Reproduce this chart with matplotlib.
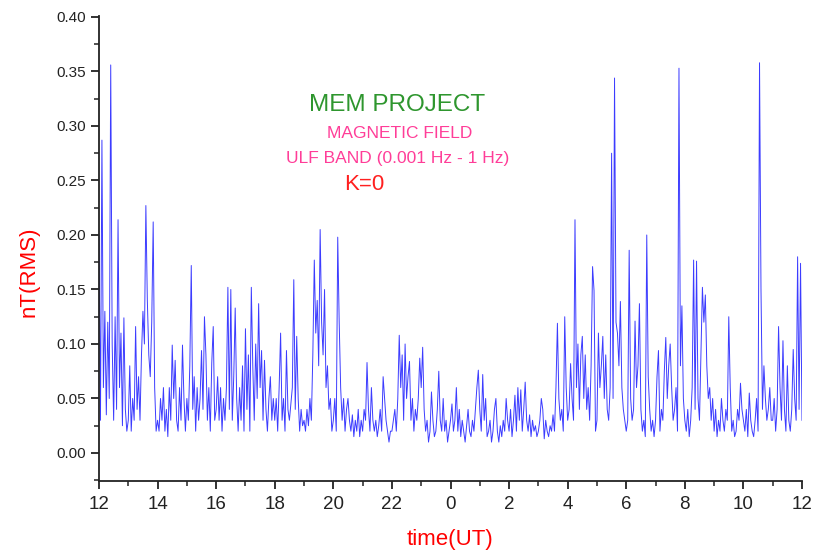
import numpy as np
import matplotlib.pyplot as plt
from matplotlib.ticker import MultipleLocator, FixedLocator

# RMS of magnetic field, ULF band, 20 samples per hour starting 12 UT
h00 = [0.20, 0.03, 0.287, 0.06, 0.13, 0.035, 0.12, 0.05, 0.356, 0.10, 0.03, 0.125, 0.04, 0.214, 0.06, 0.11, 0.025, 0.124, 0.04, 0.02]
h01 = [0.03, 0.08, 0.02, 0.05, 0.03, 0.116, 0.04, 0.07, 0.03, 0.09, 0.13, 0.10, 0.227, 0.14, 0.09, 0.07, 0.12, 0.212, 0.06, 0.02]
h02 = [0.03, 0.02, 0.05, 0.03, 0.06, 0.02, 0.04, 0.015, 0.06, 0.03, 0.099, 0.05, 0.085, 0.03, 0.02, 0.06, 0.03, 0.099, 0.05, 0.02]
h03 = [0.05, 0.03, 0.08, 0.172, 0.04, 0.07, 0.02, 0.06, 0.03, 0.05, 0.094, 0.04, 0.125, 0.09, 0.03, 0.06, 0.02, 0.083, 0.116, 0.03]
h04 = [0.04, 0.07, 0.03, 0.06, 0.02, 0.05, 0.03, 0.06, 0.152, 0.04, 0.15, 0.03, 0.07, 0.133, 0.05, 0.02, 0.06, 0.03, 0.08, 0.02]
h05 = [0.114, 0.04, 0.09, 0.02, 0.152, 0.08, 0.03, 0.10, 0.05, 0.137, 0.06, 0.094, 0.03, 0.085, 0.04, 0.02, 0.05, 0.07, 0.03, 0.05]
h06 = [0.03, 0.05, 0.02, 0.06, 0.11, 0.03, 0.05, 0.02, 0.094, 0.04, 0.03, 0.045, 0.06, 0.159, 0.04, 0.107, 0.05, 0.02, 0.04, 0.025]
h07 = [0.03, 0.02, 0.04, 0.025, 0.05, 0.03, 0.09, 0.177, 0.11, 0.14, 0.08, 0.205, 0.12, 0.09, 0.15, 0.06, 0.08, 0.04, 0.05, 0.02]
h08 = [0.03, 0.05, 0.02, 0.198, 0.12, 0.06, 0.03, 0.05, 0.02, 0.04, 0.05, 0.03, 0.02, 0.035, 0.015, 0.03, 0.02, 0.04, 0.015, 0.03]
h09 = [0.02, 0.04, 0.03, 0.083, 0.04, 0.02, 0.06, 0.03, 0.02, 0.03, 0.015, 0.025, 0.04, 0.02, 0.07, 0.05, 0.03, 0.02, 0.01, 0.02]
h10 = [0.02, 0.03, 0.04, 0.02, 0.05, 0.108, 0.06, 0.09, 0.03, 0.10, 0.05, 0.07, 0.084, 0.03, 0.05, 0.02, 0.04, 0.03, 0.05, 0.087]
h11 = [0.06, 0.097, 0.04, 0.02, 0.03, 0.01, 0.02, 0.056, 0.03, 0.015, 0.02, 0.04, 0.075, 0.03, 0.02, 0.05, 0.02, 0.03, 0.01, 0.02]
h12 = [0.03, 0.045, 0.02, 0.03, 0.06, 0.02, 0.04, 0.015, 0.03, 0.02, 0.01, 0.025, 0.04, 0.02, 0.015, 0.03, 0.02, 0.04, 0.06, 0.076]
h13 = [0.04, 0.02, 0.072, 0.03, 0.05, 0.015, 0.02, 0.03, 0.01, 0.02, 0.04, 0.05, 0.02, 0.01, 0.025, 0.015, 0.03, 0.02, 0.05, 0.03]
h14 = [0.02, 0.04, 0.015, 0.03, 0.053, 0.02, 0.06, 0.03, 0.058, 0.02, 0.04, 0.065, 0.03, 0.02, 0.035, 0.015, 0.03, 0.02, 0.025, 0.015]
h15 = [0.02, 0.03, 0.05, 0.04, 0.013, 0.03, 0.02, 0.015, 0.025, 0.02, 0.035, 0.02, 0.06, 0.119, 0.05, 0.03, 0.04, 0.02, 0.125, 0.06]
h16 = [0.03, 0.04, 0.082, 0.05, 0.03, 0.214, 0.06, 0.10, 0.04, 0.09, 0.107, 0.05, 0.09, 0.04, 0.06, 0.03, 0.08, 0.171, 0.149, 0.02]
h17 = [0.03, 0.11, 0.06, 0.08, 0.107, 0.05, 0.09, 0.04, 0.03, 0.06, 0.275, 0.05, 0.344, 0.12, 0.11, 0.08, 0.139, 0.06, 0.04, 0.03]
h18 = [0.02, 0.03, 0.186, 0.05, 0.03, 0.04, 0.121, 0.06, 0.08, 0.137, 0.04, 0.02, 0.03, 0.015, 0.20, 0.07, 0.04, 0.02, 0.03, 0.015]
h19 = [0.03, 0.07, 0.094, 0.02, 0.04, 0.03, 0.075, 0.106, 0.05, 0.08, 0.10, 0.06, 0.03, 0.04, 0.06, 0.02, 0.353, 0.08, 0.135, 0.05]
h20 = [0.03, 0.02, 0.04, 0.015, 0.03, 0.06, 0.177, 0.04, 0.176, 0.05, 0.03, 0.09, 0.152, 0.12, 0.145, 0.08, 0.05, 0.06, 0.03, 0.05]
h21 = [0.02, 0.04, 0.015, 0.03, 0.02, 0.05, 0.03, 0.02, 0.04, 0.03, 0.125, 0.06, 0.02, 0.03, 0.015, 0.02, 0.04, 0.03, 0.064, 0.04]
h22 = [0.03, 0.02, 0.04, 0.015, 0.055, 0.03, 0.02, 0.015, 0.03, 0.05, 0.02, 0.358, 0.15, 0.04, 0.08, 0.05, 0.03, 0.04, 0.06, 0.03]
h23 = [0.03, 0.05, 0.02, 0.04, 0.116, 0.06, 0.03, 0.103, 0.04, 0.02, 0.08, 0.03, 0.02, 0.04, 0.095, 0.05, 0.03, 0.18, 0.04, 0.174]
h24 = [0.03]

xtick_pos = [0, 2, 4, 6, 8, 10, 12, 14, 16, 18, 20, 22, 24]
xtick_lab = ['12', '14', '16', '18', '20', '22', '0', '2', '4', '6', '8', '10', '12']

rms = np.array(h00 + h01 + h02 + h03 + h04 + h05 + h06 + h07 + h08 + h09 + h10 + h11
               + h12 + h13 + h14 + h15 + h16 + h17 + h18 + h19 + h20 + h21 + h22 + h23 + h24)
t = np.arange(len(rms)) / 20.0

fnt = ['Liberation Sans', 'DejaVu Sans']

fig = plt.figure(figsize=(8.18, 5.53), dpi=100)
ax = fig.add_axes([99/818, 72/553, 703/818, 465/553])
ax.plot(t, rms, color='#1a1aff', lw=0.7, alpha=0.85)

ax.set_xlim(0, 24)
ax.set_ylim(-0.0257, 0.4009)
ax.spines['top'].set_visible(False)
ax.spines['right'].set_visible(False)
for s in ['left', 'bottom']:
    ax.spines[s].set_linewidth(1.3)
    ax.spines[s].set_color('#222222')

ax.xaxis.set_major_locator(FixedLocator(xtick_pos))
ax.set_xticklabels(xtick_lab, family=fnt, fontsize=13.5, color='#222222')
ax.xaxis.set_minor_locator(MultipleLocator(1))
ax.set_yticks(np.arange(0, 0.401, 0.05))
ax.set_yticklabels(['%.2f' % v for v in np.arange(0, 0.401, 0.05)],
                   family=fnt, fontsize=11, color='#222222')
ax.yaxis.set_minor_locator(MultipleLocator(0.025))
ax.tick_params(which='major', direction='out', length=6, width=1.3, color='#222222')
ax.tick_params(which='minor', direction='out', length=3.5, width=1.1, color='#222222')
ax.tick_params(axis='x', pad=5)

ax.set_xlabel('time(UT)', color='red', fontsize=16, family=fnt)
ax.set_ylabel('nT(RMS)', color='red', fontsize=16, family=fnt)
ax.xaxis.set_label_coords(0.499, -0.104)
ax.yaxis.set_label_coords(-0.084, 0.449)

fig.text(397/818, 1 - 105/553, 'MEM PROJECT', color='#2e962e', fontsize=17.5,
         family=fnt, ha='center', va='center')
fig.text(400/818, 1 - 134/553, 'MAGNETIC FIELD', color='#ff3d98', fontsize=12.5,
         family=fnt, ha='center', va='center')
fig.text(398/818, 1 - 159/553, 'ULF BAND (0.001 Hz - 1 Hz)', color='#ff3d98', fontsize=12.5,
         family=fnt, ha='center', va='center')
fig.text(364/818, 1 - 184/553, 'K=0', color='#ff2020', fontsize=16,
         family=fnt, ha='center', va='center')

fig.savefig('out.png', dpi=100)
